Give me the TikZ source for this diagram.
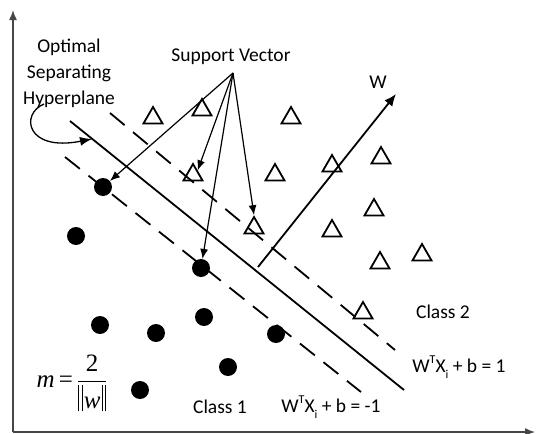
\documentclass[tikz,border=0pt]{standalone}
\usepackage{fontspec}
\setmainfont{Carlito}
\newfontfamily\timesf{Liberation Serif}
\usepackage{amsmath}
\usetikzlibrary{shapes.geometric,arrows.meta}
\definecolor{axisgray}{RGB}{70,70,70}
\newcommand{\supT}{\raisebox{0.5em}{\fontsize{12}{12}\selectfont T}}
\newcommand{\subI}{\raisebox{-0.28em}{\fontsize{12}{12}\selectfont i}}
\newcommand{\onebar}{\rule[-0.1em]{0.04em}{1.05em}}
\newcommand{\dbar}{\onebar\hspace{0.1em}\onebar}
\begin{document}
\begin{tikzpicture}[x=1pt,y=-1pt,
  tri/.style={regular polygon,regular polygon sides=3,draw,line width=1.8pt,minimum size=22pt,inner sep=0pt},
  dot/.style={circle,fill,minimum size=18pt,inner sep=0pt},
  lbl/.style={font=\fontsize{19.5}{26}\selectfont,inner sep=0pt},
  sv/.style={-{Latex[length=10pt,width=8pt]},line width=1.2pt},
  plane/.style={line width=1.8pt},
  dashline/.style={line width=1.8pt,dash pattern=on 19pt off 11pt},
  axis/.style={draw=axisgray,line width=1.5pt,-{Latex[length=10pt,width=8pt]}}
]
\useasboundingbox (0,0) rectangle (536,434);
% axes
\coordinate (o) at (13,432);
\coordinate (ytip) at (13,10);
\coordinate (xtip) at (535,432);
\draw[axis] (o) -- (ytip);
\draw[axis] (o) -- (xtip);
% planes
\coordinate (h1) at (70,121);
\coordinate (h2) at (404,390);
\coordinate (u1) at (110,113);
\coordinate (u2) at (395,350);
\coordinate (l1) at (65,157);
\coordinate (l2) at (361,392);
\draw[plane] (h1) -- (h2);
\draw[dashline] (u1) -- (u2);
\draw[dashline] (l1) -- (l2);
% W vector
\coordinate (wfoot) at (258,267);
\coordinate (wtip) at (396,94);
\draw[line width=1.8pt,-{Latex[length=12pt,width=10pt]}] (wfoot) -- (wtip);
\node[lbl] (wlbl) at (378,82) {W};
% triangles
\node[tri] (t1) at (153,118) {};
\node[tri] (t2) at (202,110) {};
\node[tri] (t3) at (291,118) {};
\node[tri] (t4) at (193,175) {};
\node[tri] (t5) at (275,175) {};
\node[tri] (t6) at (332,166) {};
\node[tri] (t7) at (381,158) {};
\node[tri] (t8) at (254,228) {};
\node[tri] (t9) at (374,210) {};
\node[tri] (t10) at (332,231) {};
\node[tri] (t11) at (380,263) {};
\node[tri] (t12) at (422,255) {};
\node[tri] (t13) at (363,313) {};
% circles
\node[dot] (c1) at (103,187) {};
\node[dot] (c2) at (76,236) {};
\node[dot] (c3) at (201,268) {};
\node[dot] (c4) at (100,325) {};
\node[dot] (c5) at (156,333) {};
\node[dot] (c6) at (204,317) {};
\node[dot] (c7) at (276,334) {};
\node[dot] (c8) at (228,367) {};
\node[dot] (c9) at (140,390) {};
% support vector label and arrows
\node[lbl] (svl) at (231,57) {Support Vector};
\coordinate (svs) at (233,73);
\draw[sv] (svs) -- (c1);
\draw[sv] (svs) -- (t4.north east);
\draw[sv] (svs) -- (c3);
\draw[sv] (svs) -- (t8.north);
% optimal hyperplane label
\node[lbl,align=center] (osh) at (69,73) {Optimal\\Separating\\Hyperplane};
\coordinate (cs) at (44,104);
\coordinate (ce) at (92,139);
\draw[line width=1.3pt,-{Latex[length=12pt,width=9pt]}] (cs) .. controls (20,114) and (26,152) .. (ce);
% class labels
\node[lbl] (cl2) at (443,312) {Class 2};
\node[lbl] (eq1) at (459,367) {W\supT X\subI{} + b = 1};
\node[lbl] (cl1) at (220,407) {Class 1};
\node[lbl] (eq2) at (331,407) {W\supT X\subI{} + b = -1};
\node[inner sep=0pt,font=\fontsize{25}{30}\selectfont] (m) at (72,383)
  {$\text{\timesf\itshape m}\,\text{\timesf =}\,\dfrac{\text{\timesf 2}}{\text{\timesf\dbar\hspace{0.04em}\itshape w\hspace{0.04em}\upshape\dbar}}$};
\end{tikzpicture}
\end{document}
